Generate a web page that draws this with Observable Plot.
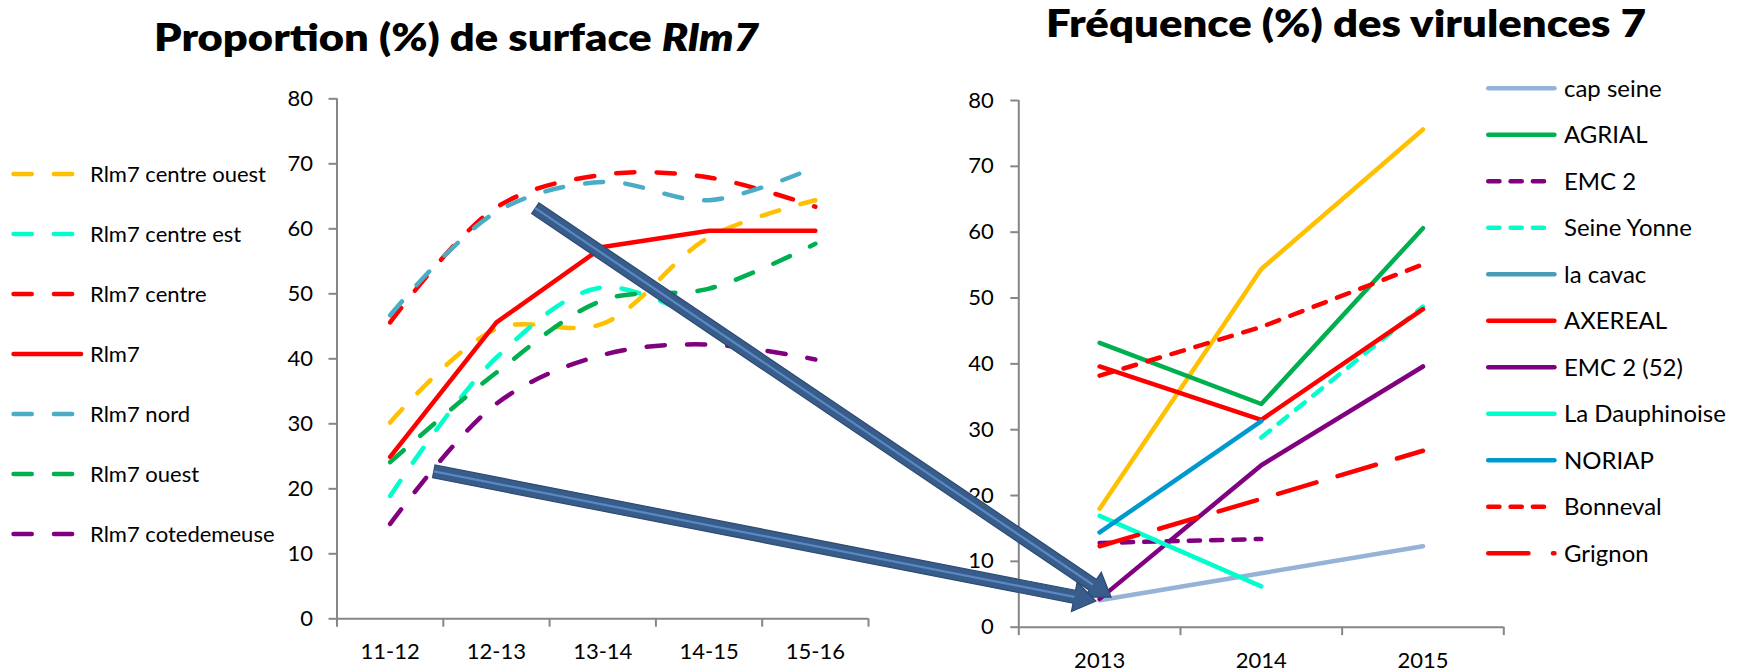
<!DOCTYPE html>
<html>
<head>
<meta charset="utf-8">
<script src="https://cdn.jsdelivr.net/npm/d3@7"></script>
<script src="https://cdn.jsdelivr.net/npm/@observablehq/plot@0.6"></script>
<style>
  html, body { margin: 0; padding: 0; background: #fff; }
  #root { position: relative; width: 1737px; height: 672px; overflow: hidden; font-family: Lato, "Open Sans", sans-serif; }
</style>
</head>
<body>
<div id="root"></div>
<script>
// ---------------- DATA ----------------
// Left chart: Proportion (%) de surface Rlm7
const seasons = ["11-12", "12-13", "13-14", "14-15", "15-16"];
const surfaceNames = ["Rlm7 centre ouest", "Rlm7 centre est", "Rlm7 centre", "Rlm7", "Rlm7 nord", "Rlm7 ouest", "Rlm7 cotedemeuse"];
const centreOuest  = [30.2, 44.6, 45.4, 58.7, 64.4];
const centreEst    = [18.9, 40.2, 51.0, 45.2, null];
const centre       = [45.6, 63.3, 68.3, 67.9, 63.4];
const rlm7         = [24.9, 45.6, 57.2, 59.7, 59.7];
const nord         = [46.7, 62.6, 67.2, 64.4, 69.5];
const ouest        = [24.1, 37.9, 49.0, 50.8, 57.7];
const cotedemeuse  = [14.6, 33.1, 40.6, 42.2, 39.9];
const surfaceValues = [centreOuest, centreEst, centre, rlm7, nord, ouest, cotedemeuse];
const yTicks = [0, 10, 20, 30, 40, 50, 60, 70, 80];

// Right chart: Fréquence (%) des virulences 7
const years = ["2013", "2014", "2015"];
const virNames = ["cap seine", "AGRIAL", "EMC 2", "Seine Yonne", "la cavac", "AXEREAL", "EMC 2 (52)", "La Dauphinoise", "NORIAP", "Bonneval", "Grignon"];
const capSeine    = [4.1, 8.2, 12.3];
const agrial      = [43.2, 33.9, 60.6];
const emc2        = [12.8, 13.4, null];
const seineYonne  = [null, 28.8, 48.7];
const laCavac     = [null, null, null];
const axereal     = [39.6, 31.5, 48.3];
const emc2_52     = [4.3, 24.6, 39.6];
const dauphinoise = [16.9, 6.2, null];
const noriap      = [14.4, 31.3, null];
const bonneval    = [38.2, 45.6, 55.1];
const grignon     = [12.3, 19.5, 26.8];
const virValues = [capSeine, agrial, emc2, seineYonne, laCavac, axereal, emc2_52, dauphinoise, noriap, bonneval, grignon];
const unlabeledSeries = [18.0, 54.4, 75.6]; // orange line without legend entry

// Arrow annotations (in each chart's data coordinates: category index, value)
const arrowStarts = [{x: 1.37, y: 63.1}, {x: 0.415, y: 22.6}];   // left chart
const arrowEnds   = [{x: 0.074, y: 4.5}, {x: -0.02, y: 3.9}];    // right chart

// ---------------- STYLES ----------------
const FONT = "Lato, 'Open Sans', sans-serif";
const GRAY = "#868686";
const LW = 4.5;
const LONG_DASH_L = "18.2,22.2";
const surfaceStyle = [
  {color: "#FFC000", dash: LONG_DASH_L},
  {color: "#00FFCC", dash: LONG_DASH_L},
  {color: "#FF0000", dash: LONG_DASH_L},
  {color: "#FF0000", dash: null},
  {color: "#4BACC6", dash: LONG_DASH_L},
  {color: "#00B050", dash: LONG_DASH_L},
  {color: "#800080", dash: LONG_DASH_L}
];
const SHORT = "11.2,11.1";
const LONGD = "40.2,24.5";
const virStyle = [
  {color: "#95B3D7", dash: null},
  {color: "#00B050", dash: null},
  {color: "#800080", dash: SHORT},
  {color: "#00FFCC", dash: SHORT},
  {color: "#4A9BB6", dash: null},
  {color: "#FF0000", dash: null},
  {color: "#800080", dash: null},
  {color: "#00FFCC", dash: null},
  {color: "#0099CF", dash: null},
  {color: "#FF0000", dash: "13,12"},
  {color: "#FF0000", dash: "40,22"}
];
const virLegendDash = [null, null, SHORT, SHORT, null, null, null, null, null, SHORT, LONGD];

function rows(values) {
  return values.map((v, i) => ({i, v})).filter(d => d.v != null);
}

const root = document.getElementById("root");

function axes(n, tickPadY) {
  return [
    Plot.ruleX([-0.5], {stroke: GRAY, strokeWidth: 2}),
    Plot.ruleY([0], {stroke: GRAY, strokeWidth: 2}),
    Plot.axisY({ticks: yTicks, tickSize: 8, tickPadding: tickPadY, stroke: GRAY, strokeWidth: 2, fill: "#000", label: null}),
    Plot.axisX({ticks: d3.range(-0.5, n, 1), tickSize: 8.4, tickFormat: () => "", stroke: GRAY, strokeWidth: 2, label: null}),
  ];
}

// ---------------- LEFT CHART ----------------
const leftPos = {left: 250, top: 80};
const leftMarks = [...axes(seasons.length, 16)];
leftMarks.push(Plot.axisX({ticks: d3.range(seasons.length), tickSize: 0, tickPadding: 24.7, tickFormat: i => seasons[i], fill: "#000", label: null}));
surfaceValues.forEach((vals, k) => {
  const st = surfaceStyle[k];
  leftMarks.push(Plot.line(rows(vals), {
    x: "i", y: "v", stroke: st.color, strokeWidth: LW,
    strokeDasharray: st.dash || undefined, strokeLinecap: "round", strokeLinejoin: "round",
    curve: st.dash ? "catmull-rom" : "linear"
  }));
});
const leftChart = Plot.plot({
  width: 630, height: 592,
  marginLeft: 86.5, marginRight: 12, marginTop: 18.3, marginBottom: 53.7,
  x: {domain: [-0.5, seasons.length - 0.5], label: null},
  y: {domain: [0, 80], label: null},
  style: {fontFamily: FONT, fontSize: "22px", color: "#000", background: "transparent", overflow: "visible"},
  marks: leftMarks
});
Object.assign(leftChart.style, {position: "absolute", left: leftPos.left + "px", top: leftPos.top + "px"});
root.appendChild(leftChart);

// ---------------- RIGHT CHART ----------------
const rightPos = {left: 930, top: 80};
const rightMarks = [...axes(years.length, 17)];
rightMarks.push(Plot.axisX({ticks: d3.range(years.length), tickSize: 0, tickPadding: 25, tickFormat: i => years[i], fill: "#000", label: null}));
rightMarks.push(Plot.line(rows(unlabeledSeries), {x: "i", y: "v", stroke: "#FFC000", strokeWidth: LW, strokeLinecap: "round", strokeLinejoin: "round"}));
virValues.forEach((vals, k) => {
  const st = virStyle[k];
  const r = rows(vals);
  if (r.length < 2) return;
  rightMarks.push(Plot.line(r, {
    x: "i", y: "v", stroke: st.color, strokeWidth: LW,
    strokeDasharray: st.dash || undefined, strokeLinecap: "round", strokeLinejoin: "round"
  }));
});
const rightChart = Plot.plot({
  width: 580, height: 592,
  marginLeft: 88.3, marginRight: 6.7, marginTop: 20, marginBottom: 45.3,
  x: {domain: [-0.5, years.length - 0.5], label: null},
  y: {domain: [0, 80], label: null},
  style: {fontFamily: FONT, fontSize: "22px", color: "#000", background: "transparent", overflow: "visible"},
  marks: rightMarks
});
Object.assign(rightChart.style, {position: "absolute", left: rightPos.left + "px", top: rightPos.top + "px"});
root.appendChild(rightChart);

// ---------------- LEGENDS (HTML blocks with small swatch svgs) ----------------
// font size fitted at runtime so that a reference entry has the reference width
function fitFont(text, targetWidth) {
  const s = d3.select(root).append("svg").attr("width", 10).attr("height", 10).style("position", "absolute");
  const t = s.append("text").attr("font-family", FONT).attr("font-size", 100).text(text);
  const w = t.node().getComputedTextLength();
  s.remove();
  return w > 0 ? 100 * targetWidth / w : 22;
}
function legend({names, colors, dashes, left, top, rowH, swatchFrom, swatchTo, textX, width, fontSize}) {
  const div = document.createElement("div");
  Object.assign(div.style, {position: "absolute", left: left + "px", top: top + "px"});
  const h = rowH * names.length;
  const svg = d3.select(div).append("svg").attr("width", width).attr("height", h)
    .style("overflow", "visible").style("display", "block");
  names.forEach((name, k) => {
    const cy = rowH * k + rowH / 2;
    const g = svg.append("g");
    const d = dashes[k];
    const x2 = d ? (d === LONGD ? swatchTo - 2.25 : (d === SHORT ? swatchTo - 12.5 : swatchTo - 11)) : swatchTo - 2.25;
    g.append("line").attr("x1", swatchFrom + 2.25).attr("x2", x2).attr("y1", cy).attr("y2", cy)
      .attr("stroke", colors[k]).attr("stroke-width", LW).attr("stroke-linecap", "round")
      .attr("stroke-dasharray", d || null);
    g.append("text").attr("x", textX).attr("y", cy + 0.355 * fontSize)
      .attr("font-family", FONT).attr("font-size", fontSize).attr("fill", "#000").text(name);
  });
  root.appendChild(div);
}
legend({
  names: surfaceNames, colors: surfaceStyle.map(s => s.color),
  dashes: surfaceStyle.map(s => s.dash ? LONG_DASH_L : null),
  left: 0, top: 144.3, rowH: 60, swatchFrom: 11.3, swatchTo: 83.3, textX: 90, width: 290,
  fontSize: fitFont(surfaceNames[0], 176)
});
legend({
  names: virNames, colors: virStyle.map(s => s.color), dashes: virLegendDash,
  left: 1460, top: 65.05, rowH: 46.5, swatchFrom: 26, swatchTo: 96.7, textX: 104, width: 277,
  fontSize: fitFont(virNames[7], 162)
});

// ---------------- TITLES + ARROWS (overlay) ----------------
const overlay = d3.select(root).append("svg")
  .attr("width", 1737).attr("height", 672)
  .style("position", "absolute").style("left", "0px").style("top", "0px").style("pointer-events", "none");

const t1 = overlay.append("text").attr("x", 154).attr("y", 50.7)
  .attr("font-family", FONT).attr("font-weight", 800).attr("font-size", 38).attr("fill", "#000")
  .attr("textLength", 605).attr("lengthAdjust", "spacingAndGlyphs");
t1.append("tspan").text("Proportion (%) de surface ");
t1.append("tspan").attr("font-style", "italic").text("Rlm7");
overlay.append("text").attr("x", 1046).attr("y", 36.7)
  .attr("font-family", FONT).attr("font-weight", 800).attr("font-size", 38).attr("fill", "#000")
  .attr("textLength", 600).attr("lengthAdjust", "spacingAndGlyphs")
  .text("Fréquence (%) des virulences 7");

function pagePos(chart, pos, p) {
  return [pos.left + chart.scale("x").apply(p.x), pos.top + chart.scale("y").apply(p.y)];
}
function arrowPath(p0, p1, shaft, headW, headL) {
  const dx = p1[0] - p0[0], dy = p1[1] - p0[1], L = Math.hypot(dx, dy);
  const ux = dx / L, uy = dy / L, nx = -uy, ny = ux;
  const bx = p1[0] - ux * headL, by = p1[1] - uy * headL;
  const pts = [
    [p0[0] + nx * shaft / 2, p0[1] + ny * shaft / 2],
    [bx + nx * shaft / 2, by + ny * shaft / 2],
    [bx + nx * headW / 2, by + ny * headW / 2],
    p1,
    [bx - nx * headW / 2, by - ny * headW / 2],
    [bx - nx * shaft / 2, by - ny * shaft / 2],
    [p0[0] - nx * shaft / 2, p0[1] - ny * shaft / 2]
  ];
  return {d: "M" + pts.map(p => p.join(",")).join("L") + "Z", base: [bx, by]};
}
arrowStarts.forEach((s, k) => {
  const p0 = pagePos(leftChart, leftPos, s);
  const p1 = pagePos(rightChart, rightPos, arrowEnds[k]);
  const a = arrowPath(p0, p1, 13, 30, 22);
  overlay.append("path").attr("d", a.d).attr("fill", "#385D8A").attr("stroke", "#2C4A72").attr("stroke-width", 1.2).attr("stroke-linejoin", "miter");
  overlay.append("line").attr("x1", p0[0]).attr("y1", p0[1]).attr("x2", a.base[0]).attr("y2", a.base[1])
    .attr("stroke", "#5A88C4").attr("stroke-width", 2.2);
});
</script>
</body>
</html>
